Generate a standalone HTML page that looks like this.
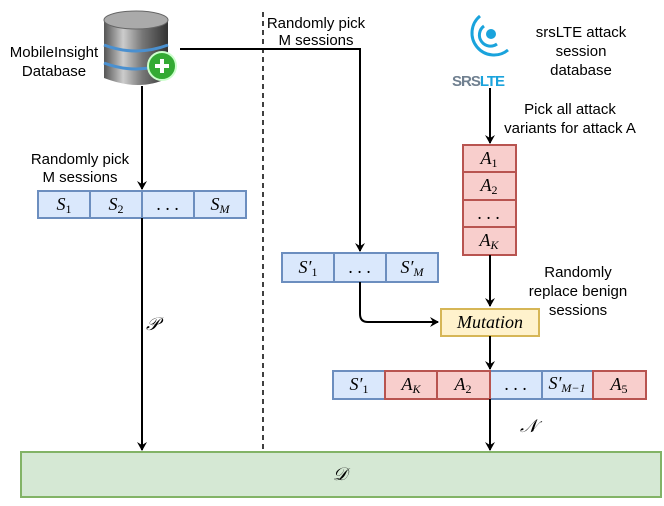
<!DOCTYPE html>
<html><head><style>
body{margin:0;width:664px;height:501px;background:#fff;overflow:hidden;font-family:"Liberation Sans",sans-serif}
svg text{font-family:"Liberation Sans",sans-serif;font-size:15px}
.m{font-family:"Liberation Serif",serif;font-style:italic;font-size:18px}
</style></head><body>
<svg width="664" height="501" viewBox="0 0 664 501" xmlns="http://www.w3.org/2000/svg">
<defs>
<marker id="a" markerWidth="10" markerHeight="10" refX="8" refY="5" orient="auto" markerUnits="userSpaceOnUse"><path d="M0,0 L9,5 L0,10 L3,5z" fill="#000"/></marker>
<linearGradient id="g" x1="0" x2="1"><stop offset="0" stop-color="#555"/><stop offset="0.3" stop-color="#ccc"/><stop offset="0.6" stop-color="#777"/><stop offset="1" stop-color="#333"/></linearGradient>
</defs>
<line x1="263" y1="12" x2="263" y2="450" stroke="#000" stroke-width="1.5" stroke-dasharray="5,4"/>
<path d="M104,20 L104,78 Q140,92 168,78 L168,20z" fill="url(#g)"/>
<ellipse cx="136" cy="20" rx="32" ry="9" fill="#aaa" stroke="#666"/>
<path d="M104,45 Q136,57 168,45" stroke="#4a90d0" stroke-width="3" fill="none"/>
<path d="M104,63 Q136,75 168,63" stroke="#4a90d0" stroke-width="3" fill="none"/>
<circle cx="162" cy="66" r="14" fill="#3a3" stroke="#cfc" stroke-width="2"/>
<path d="M155,66 h14 M162,59 v14" stroke="#fff" stroke-width="4"/>
<text x="54" y="57" text-anchor="middle">MobileInsight</text>
<text x="54" y="76" text-anchor="middle">Database</text>
<line x1="142" y1="86" x2="142" y2="189" stroke="#000" stroke-width="2" marker-end="url(#a)"/>
<text x="80" y="164" text-anchor="middle">Randomly pick</text>
<text x="80" y="182" text-anchor="middle">M sessions</text>
<g stroke="#6c8ebf" stroke-width="2" fill="#dae8fc">
<rect x="38" y="191" width="52" height="27"/><rect x="90" y="191" width="52" height="27"/><rect x="142" y="191" width="52" height="27"/><rect x="194" y="191" width="52" height="27"/>
</g>
<text class="m" x="64" y="210" text-anchor="middle">S<tspan font-size="12" font-style="normal" dy="3">1</tspan></text>
<text class="m" x="116" y="210" text-anchor="middle">S<tspan font-size="12" font-style="normal" dy="3">2</tspan></text>
<text class="m" x="168" y="210" text-anchor="middle" font-style="normal">. . .</text>
<text class="m" x="220" y="210" text-anchor="middle">S<tspan font-size="12" dy="3">M</tspan></text>
<line x1="142" y1="218" x2="142" y2="450" stroke="#000" stroke-width="2" marker-end="url(#a)"/>
<text class="m" x="146" y="330" font-size="16">𝒫</text>
<path d="M180,49 H360 V251" stroke="#000" stroke-width="2" fill="none" marker-end="url(#a)"/>
<text x="316" y="28" text-anchor="middle">Randomly pick</text>
<text x="316" y="45" text-anchor="middle">M sessions</text>
<g stroke="#6c8ebf" stroke-width="2" fill="#dae8fc">
<rect x="282" y="253" width="52" height="29"/><rect x="334" y="253" width="52" height="29"/><rect x="386" y="253" width="52" height="29"/>
</g>
<text class="m" x="308" y="273" text-anchor="middle">S′<tspan font-size="12" font-style="normal" dy="3">1</tspan></text>
<text class="m" x="360" y="273" text-anchor="middle" font-style="normal">. . .</text>
<text class="m" x="412" y="273" text-anchor="middle">S′<tspan font-size="12" dy="3">M</tspan></text>
<path d="M360,282 V314 Q360,322 368,322 H438" stroke="#000" stroke-width="2" fill="none" marker-end="url(#a)"/>
<circle cx="491" cy="34" r="5" fill="#1aa3dc"/>
<path d="M484,26 A10,10 0 0,0 497,44" stroke="#1aa3dc" stroke-width="3" fill="none"/>
<path d="M480,16 A20,20 0 0,0 508,50" stroke="#1aa3dc" stroke-width="3" fill="none"/>
<text x="452" y="86" font-size="21" font-weight="bold" letter-spacing="-1"><tspan fill="#708090">SRS</tspan><tspan fill="#1aa3dc">LTE</tspan></text>
<text x="581" y="37" text-anchor="middle">srsLTE attack</text>
<text x="581" y="56" text-anchor="middle">session</text>
<text x="581" y="75" text-anchor="middle">database</text>
<line x1="490" y1="88" x2="490" y2="143" stroke="#000" stroke-width="2" marker-end="url(#a)"/>
<text x="570" y="114" text-anchor="middle">Pick all attack</text>
<text x="570" y="133" text-anchor="middle">variants for attack A</text>
<g stroke="#b85450" stroke-width="2" fill="#f8cecc">
<rect x="463" y="145" width="53" height="27"/><rect x="463" y="172" width="53" height="28"/><rect x="463" y="200" width="53" height="27"/><rect x="463" y="227" width="53" height="28"/>
</g>
<text class="m" x="489" y="164" text-anchor="middle">A<tspan font-size="12" font-style="normal" dy="3">1</tspan></text>
<text class="m" x="489" y="191" text-anchor="middle">A<tspan font-size="12" font-style="normal" dy="3">2</tspan></text>
<text class="m" x="489" y="219" text-anchor="middle" font-style="normal">. . .</text>
<text class="m" x="489" y="246" text-anchor="middle">A<tspan font-size="12" dy="3">K</tspan></text>
<line x1="490" y1="255" x2="490" y2="306" stroke="#000" stroke-width="2" marker-end="url(#a)"/>
<text x="578" y="277" text-anchor="middle">Randomly</text>
<text x="578" y="296" text-anchor="middle">replace benign</text>
<text x="578" y="315" text-anchor="middle">sessions</text>
<rect x="441" y="309" width="98" height="27" fill="#fff2cc" stroke="#d6b656" stroke-width="2"/>
<text class="m" x="490" y="328" text-anchor="middle">Mutation</text>
<line x1="490" y1="336" x2="490" y2="369" stroke="#000" stroke-width="2" marker-end="url(#a)"/>
<g stroke-width="2">
<rect x="333" y="371" width="52" height="28" fill="#dae8fc" stroke="#6c8ebf"/>
<rect x="490" y="371" width="52" height="28" fill="#dae8fc" stroke="#6c8ebf"/>
<rect x="542" y="371" width="51" height="28" fill="#dae8fc" stroke="#6c8ebf"/>
<rect x="385" y="371" width="52" height="28" fill="#f8cecc" stroke="#b85450"/>
<rect x="437" y="371" width="53" height="28" fill="#f8cecc" stroke="#b85450"/>
<rect x="593" y="371" width="53" height="28" fill="#f8cecc" stroke="#b85450"/>
</g>
<text class="m" x="359" y="390" text-anchor="middle">S′<tspan font-size="12" font-style="normal" dy="3">1</tspan></text>
<text class="m" x="411" y="390" text-anchor="middle">A<tspan font-size="12" dy="3">K</tspan></text>
<text class="m" x="463" y="390" text-anchor="middle">A<tspan font-size="12" font-style="normal" dy="3">2</tspan></text>
<text class="m" x="516" y="390" text-anchor="middle" font-style="normal">. . .</text>
<text class="m" x="567" y="389" text-anchor="middle">S′<tspan font-size="12" dy="3">M−1</tspan></text>
<text class="m" x="619" y="390" text-anchor="middle">A<tspan font-size="12" font-style="normal" dy="3">5</tspan></text>
<line x1="490" y1="399" x2="490" y2="450" stroke="#000" stroke-width="2" marker-end="url(#a)"/>
<text class="m" x="520" y="432" font-size="17">𝒩</text>
<rect x="21" y="452" width="640" height="45" fill="#d5e8d4" stroke="#82b366" stroke-width="2"/>
<text class="m" x="340" y="480" text-anchor="middle" font-size="19">𝒟</text>
</svg>
</body></html>
